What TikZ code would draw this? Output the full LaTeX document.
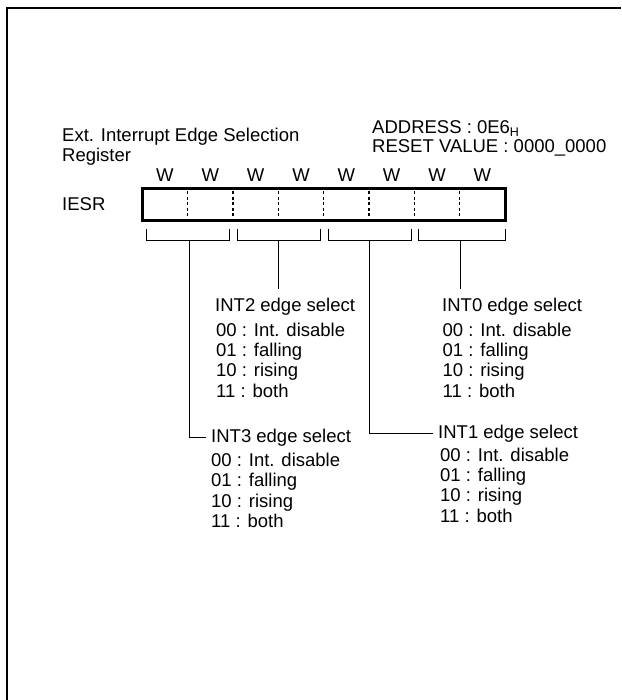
\documentclass[tikz,border=0pt]{standalone}
\usepackage{fontspec}
\setmainfont{Liberation Sans}
\begin{document}
\begin{tikzpicture}[x=1pt,y=-1pt,
  every node/.style={font=\fontsize{18.5}{21}\selectfont, inner sep=0pt},
  lbl/.style={anchor=base west},
  wlbl/.style={anchor=base},
  ttl/.style={anchor=base west, inner xsep=5.5pt},
  regbox/.style={draw, line width=3pt, minimum width=362.7pt, minimum height=32.5pt},
  divider/.style={line width=1.6pt, dash pattern=on 3pt off 2.5pt},
  brk/.style={line width=1pt},
  frame/.style={line width=2pt}]
\useasboundingbox (0,0) rectangle (621,700);
% frame
\draw[frame] (7,700) -- (7,7.7) -- (621,7.7);
% top texts
\node[lbl] (t1) at (62,141.7) {Ext. Interrupt Edge Selection};
\node[lbl] (t2) at (62,161.7) {Register};
\node[lbl] (addr) at (372,133.3) {ADDRESS : 0E6\raisebox{-3.4pt}{\fontsize{12.5}{14}\selectfont H}};
\node[lbl] (rst) at (372,153) {RESET VALUE : 0000\_0000};
\node[lbl] (iesr) at (62,210.6) {IESR};
% W labels
\foreach \i in {0,...,7} {
  \node[wlbl] (w\i) at ({142.3+45.34*(\i+0.5)},181.7) {W};
}
% register
\node[regbox] (reg) at (323.65,204.55) {};
\foreach \i in {1,...,7} {
  \draw[divider] ({142.3+45.34*\i},191.5) -- ({142.3+45.34*\i},218);
}
% brackets
\draw[brk] (146,229.3) -- (146,240.7) -- (229.3,240.7) -- (229.3,229.3);
\draw[brk] (237.3,229.3) -- (237.3,240.7) -- (320.7,240.7) -- (320.7,229.3);
\draw[brk] (328.3,229.3) -- (328.3,240.7) -- (411.7,240.7) -- (411.7,229.3);
\draw[brk] (418.3,229.3) -- (418.3,240.7) -- (505.7,240.7) -- (505.7,229.3);
\coordinate (s3) at (189,240.7);
\coordinate (s2) at (278.3,240.7);
\coordinate (s1) at (369.3,240.7);
\coordinate (s0) at (460.7,240.7);
\coordinate (e2) at (278.3,288.7);
\coordinate (e0) at (460.7,288.7);
% titles
\node[ttl] (int2) at (209.5,311.5) {INT2 edge select};
\node[ttl] (int0) at (436.5,311.5) {INT0 edge select};
\node[ttl] (int3) at (205.5,442.5) {INT3 edge select};
\node[ttl] (int1) at (432.5,438.3) {INT1 edge select};
% items
\foreach \n/\x/\y in {ia/216/336,ib/442.5/336,ic/211/466.5,id/440/461} {
  \node[lbl] (\n x0) at (\x,\y) {00 : Int. disable};
  \node[lbl] (\n x1) at (\x,\y+20.4) {01 : falling};
  \node[lbl] (\n x2) at (\x,\y+40.8) {10 : rising};
  \node[lbl] (\n x3) at (\x,\y+61.2) {11 : both};
}
% connectors
\draw[brk] (s2) -- (e2);
\draw[brk] (s0) -- (e0);
\draw[brk] (s3) |- (int3.west);
\draw[brk] (s1) |- (int1.west);
\end{tikzpicture}
\end{document}
